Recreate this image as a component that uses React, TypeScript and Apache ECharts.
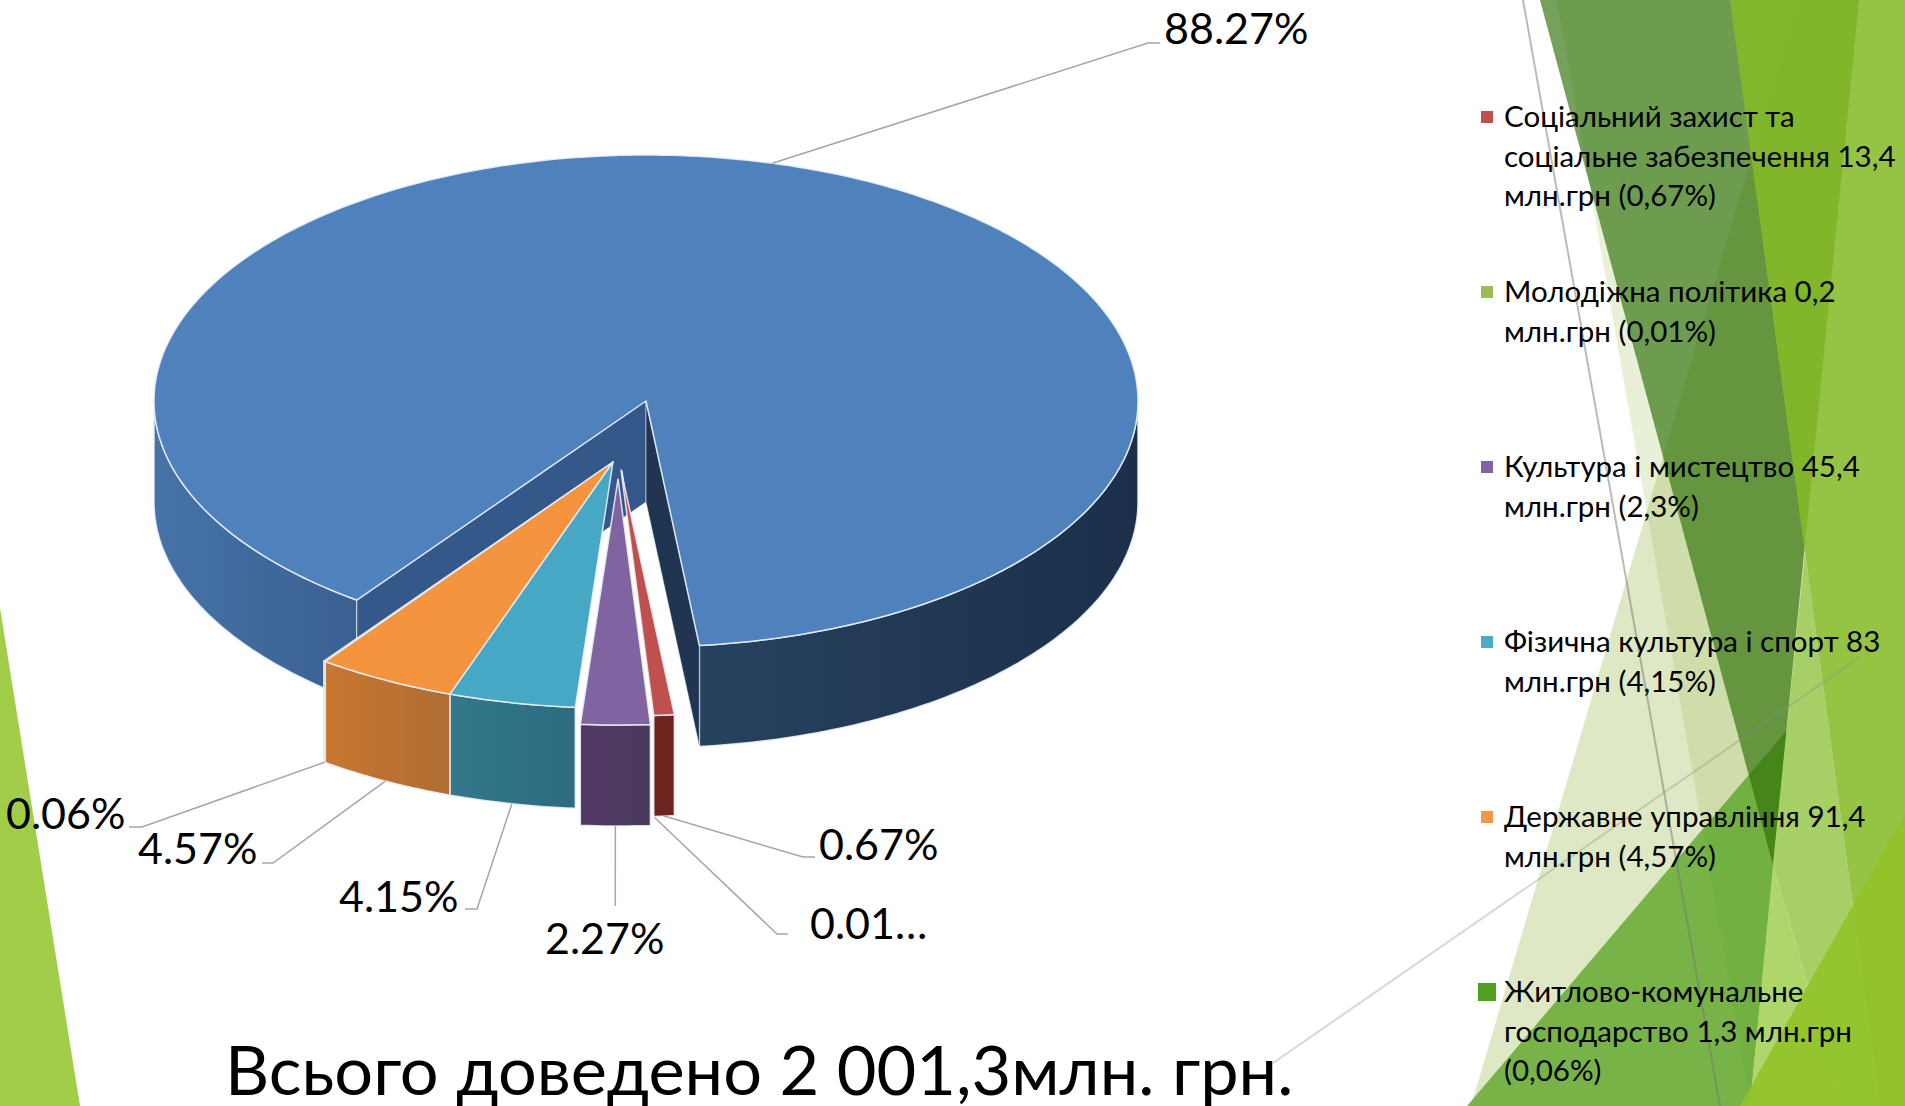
import React, { useEffect, useRef } from "react";
import * as echarts from "echarts";

const shares = [88.27, 0.67, 0.01, 2.27, 4.15, 4.57, 0.06];
const sliceLabels = ["88.27%", "0.67%", "0.01…", "2.27%", "4.15%", "4.57%", "0.06%"];
const legendTexts = [
  "Соціальний захист та\nсоціальне забезпечення 13,4\nмлн.грн (0,67%)",
  "Молодіжна політика 0,2\nмлн.грн (0,01%)",
  "Культура і мистецтво 45,4\nмлн.грн (2,3%)",
  "Фізична культура і спорт 83\nмлн.грн (4,15%)",
  "Державне управління 91,4\nмлн.грн (4,57%)",
  "Житлово-комунальне\nгосподарство 1,3 млн.грн\n(0,06%)",
];
const titleText = "Всього доведено 2 001,3млн. грн.";

// styles and layout
const FONT = 'Lato, "Open Sans", sans-serif';
const topColors = ["#4F81BD", "#C0504D", "#9BBB59", "#8064A2", "#46A8C4", "#F4943E", "#4F9F20"];
const legendColors = ["#C0504D", "#9BBB59", "#8064A2", "#4BACC6", "#F79646", "#4F9F20"];
const sideColors = [
  ["#4673A8", "#3A6090"],
  ["#70231F", "#6C2420"],
  ["#5E7036", "#5E7036"],
  ["#523864", "#493A5C"],
  ["#33788C", "#2D6B7F"],
  ["#C8772F", "#B06C33"],
  ["#2F6A15", "#2F6A15"],
];
const BLUE_RIGHT_SIDE = ["#27425F", "#1B2F4A"];
const CUT_WALL_LEFT = "#35588A";
const CUT_WALL_RIGHT = "#1F3552";
const CX = 646;
const CY = 401;
const RX = 492;
const RY = 246;
const DEPTH = 101;
const START_ANGLE = 216;
const explode = [[0, 0], [-25, 69], [-24, 70], [-28, 78], [-33, 61], [-33, 61], [-33, 61]];
const drawOrder = [0, 6, 5, 4, 2, 1, 3];
const labelLayout = [
  { elbow: [1148, 43], end: [1160, 43], x: 1164, y: 27 },
  { elbow: [803, 857], end: [815, 857], x: 819, y: 843 },
  { elbow: [777, 934], end: [788, 934], x: 810, y: 922 },
  { elbow: [615.3, 880], end: [615.3, 906], x: 545, y: 937 },
  { elbow: [477, 909], end: [465, 909], x: 339, y: 895 },
  { elbow: [273, 863], end: [262, 863], x: 138, y: 847 },
  { elbow: [142, 827], end: [129, 827], x: 6, y: 812 },
];
const legendRows = [116, 291, 466, 641, 816, 991];

const total = shares.reduce((a, b) => a + b, 0);
const startOf = (i: number) =>
  START_ANGLE + (shares.slice(0, i).reduce((a, b) => a + b, 0) / total) * 360;
const pt = (cx: number, cy: number, deg: number) => {
  const t = (deg * Math.PI) / 180;
  return [cx + RX * Math.sin(t), cy - RY * Math.cos(t)];
};
const arc = (cx: number, cy: number, a: number, b: number) => {
  const n = Math.max(1, Math.ceil(Math.abs(b - a)));
  const out: number[][] = [];
  for (let k = 0; k <= n; k++) out.push(pt(cx, cy, a + ((b - a) * k) / n));
  return out;
};
const grad = (c: string[]) => ({
  type: "linear", x: 0, y: 0, x2: 1, y2: 0,
  colorStops: [{ offset: 0, color: c[0] }, { offset: 1, color: c[1] }],
});
const down = (p: number[]) => [p[0], p[1] + DEPTH];

function renderSlice(params: any, api: any) {
  const i = api.value(1);
  const span = (api.value(0) / total) * 360;
  const a = startOf(i);
  const b = a + span;
  const cx = CX + explode[i][0];
  const cy = CY + explode[i][1];
  const edge = { stroke: "rgba(235,240,248,0.9)", lineWidth: 1.5, lineJoin: "round" };
  const base = params.dataIndex * 10;
  const children: any[] = [];
  [0, 1].forEach((k) => {
    const lo = Math.max(a, 90 + 360 * k);
    const hi = Math.min(b, 270 + 360 * k);
    if (hi <= lo) return;
    const top = arc(cx, cy, lo, hi);
    const right = i === 0 && lo > 360;
    children.push({
      type: "polygon",
      z2: base,
      shape: { points: top.concat(top.slice().reverse().map(down)) },
      style: { fill: grad(right ? BLUE_RIGHT_SIDE : sideColors[i]), ...edge },
    });
  });
  if (i === 0) {
    const c = [cx, cy];
    [[a, CUT_WALL_LEFT], [b, CUT_WALL_RIGHT]].forEach(([deg, fill]: any) => {
      const p = pt(cx, cy, deg);
      children.push({
        type: "polygon",
        z2: base + 1,
        shape: { points: [c, p, down(p), down(c)] },
        style: { fill, stroke: "rgba(235,240,248,0.55)", lineWidth: 1 },
      });
    });
  }
  children.push({
    type: "polygon",
    z2: base + 2,
    shape: { points: [[cx, cy], ...arc(cx, cy, a, b)] },
    style: { fill: topColors[i], ...edge },
  });
  return { type: "group", children };
}

function renderLabel(_params: any, api: any) {
  const i = api.value(1);
  const mid = startOf(i) + ((api.value(0) / total) * 360) / 2;
  const l = labelLayout[i];
  const p = pt(CX + explode[i][0], CY + explode[i][1], mid);
  const anchor = Math.cos((mid * Math.PI) / 180) < 0 ? down(p) : p;
  return {
    type: "group",
    children: [
      {
        type: "polyline",
        z2: 200,
        shape: { points: [anchor, l.elbow, l.end] },
        style: { stroke: "#A6A6A6", lineWidth: 1.5, fill: "none" },
      },
      {
        type: "text",
        z2: 201,
        style: {
          text: sliceLabels[i], x: l.x, y: l.y, fill: "#000",
          font: `43px ${FONT}`, align: "left", verticalAlign: "middle",
        },
      },
    ],
  };
}

const poly = (points: number[][], fill: string, z = 0) => ({
  type: "polygon", z, silent: true, shape: { points }, style: { fill },
});
const backdrop = [
  poly([[0, 608], [80, 1106], [0, 1106]], "#A2CD48"),
  poly([[1557, 0], [1859, 0], [1751, 1106]], "rgba(145,180,60,0.2)"),
  poly([[1798, 0], [1859, 0], [1750, 1106], [1471, 1106]], "rgba(145,180,60,0.3)"),
  poly([[1467, 1106], [1787, 730], [1750, 1106]], "rgba(92,165,40,0.8)"),
  poly([[1540, 0], [1859, 0], [1773, 865]], "rgba(45,110,5,0.65)"),
  poly([[1730, 0], [1905, 0], [1905, 1106], [1880, 1106]], "rgba(133,187,40,0.87)"),
  poly([[1805, 551], [1880, 1106], [1843, 1106], [1773, 865]], "#A6CF66"),
  poly([[1773, 865], [1843, 1106], [1750, 1106]], "#AED66B"),
  poly([[1740, 1106], [1905, 813], [1905, 1106]], "rgba(145,195,40,0.9)"),
  {
    type: "line", z: 1, silent: true,
    shape: { x1: 1523, y1: 0, x2: 1720, y2: 1106 },
    style: { stroke: "rgba(120,120,120,0.5)", lineWidth: 2 },
  },
  {
    type: "line", z: 1, silent: true,
    shape: { x1: 1273, y1: 1063, x2: 1860, y2: 657 },
    style: { stroke: "rgba(140,140,140,0.35)", lineWidth: 2 },
  },
];
const legendGraphics = legendTexts.flatMap((text, k) => {
  const last = k === legendTexts.length - 1;
  const size = last ? 18 : 12;
  return [
    {
      type: "rect", z: 5, silent: true,
      shape: { x: 1487 - size / 2, y: legendRows[k] + 1 - size / 2, width: size, height: size },
      style: { fill: legendColors[k] },
    },
    {
      type: "text", z: 5, silent: true,
      style: {
        text, x: 1504, y: legendRows[k] - 20, fill: "#000",
        font: `29.5px ${FONT}`, lineHeight: 39.5, align: "left", verticalAlign: "top",
      },
    },
  ];
});

export default function App() {
  const ref = useRef<HTMLDivElement>(null);
  useEffect(() => {
    const chart = echarts.init(ref.current!, null, { renderer: "svg" });
    const data = drawOrder.map((i) => ({ value: [shares[i], i] }));
    chart.setOption({
      animation: false,
      backgroundColor: "#fff",
      title: {
        text: titleText,
        left: 225,
        top: 1034,
        padding: 0,
        textStyle: { fontFamily: FONT, fontSize: 68.5, fontWeight: "normal", color: "#000" },
      },
      graphic: { elements: [...backdrop, ...legendGraphics] },
      series: [
        { type: "custom", coordinateSystem: "none", z: 3, renderItem: renderSlice, data, silent: true },
        { type: "custom", coordinateSystem: "none", z: 4, renderItem: renderLabel, data, silent: true },
      ],
    });
    return () => chart.dispose();
  }, []);
  return <div ref={ref} style={{ position: "fixed", left: 0, top: 0, width: 1905, height: 1106 }} />;
}
